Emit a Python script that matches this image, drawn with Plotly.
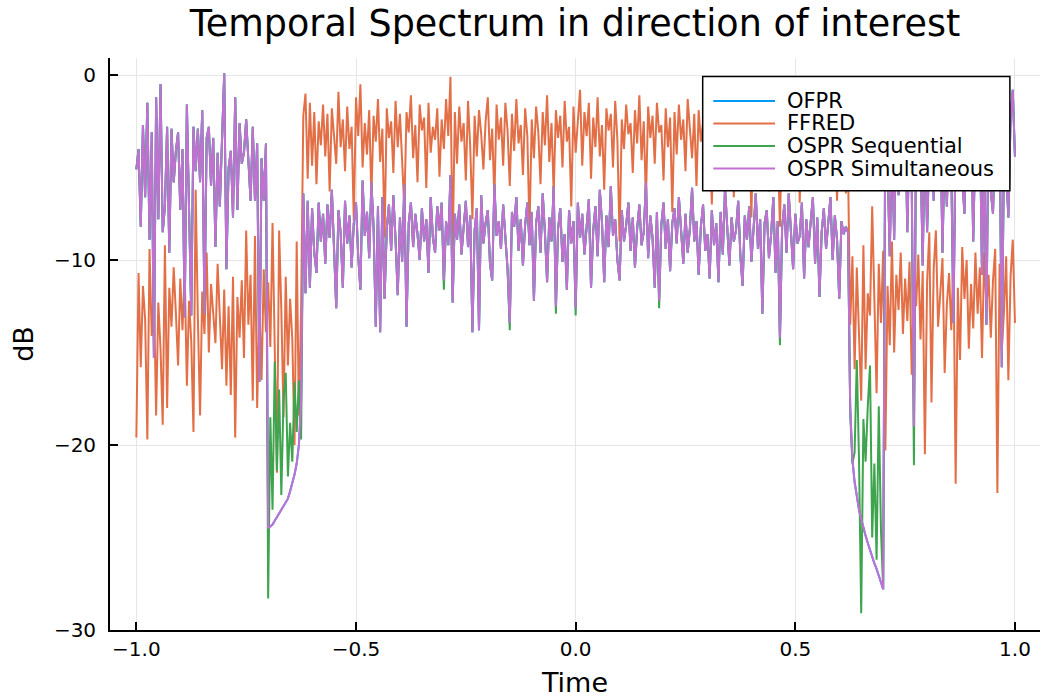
import numpy as np
import plotly.graph_objects as go

# ---------------- data ----------------
n_points = 401
time = np.linspace(-1.0, 1.0, n_points)

# OSPR Simultaneous (purple) – five consecutive stretches
sim_outer_left = [
    -5.1, -4.0, -8.2, -2.7, -6.6, -1.5, -8.9, -3.1, -15.3, -1.2,
    -7.8, -0.5, -8.5, -7.1, -2.8, -9.6, -2.9, -5.8, -4.1, -3.1,
    -7.3, -4.0, -13.1, -1.6, -7.3, -13.0, -2.8, -5.2, -2.9, -5.8,
    -1.9, -12.9, -3.4, -2.8, -6.0, -3.4, -9.3, -4.2, -7.1, -3.0,
    0.1, -10.5, -5.0, -4.1, -7.7, -1.2, -7.3, -2.6, -4.8, -4.2,
    -2.4, -4.6, -6.8, -2.8, -6.8, -3.7, -16.6, -4.5, -6.8, -3.7,
]
sim_notch_left = [
    -24.5, -24.4, -24.3, -24.1, -23.9, -23.7, -23.5, -23.3,
    -23.1, -22.9, -22.5, -22.1, -21.6, -21.0, -20.0, -17.6,
]
sim_mid = [
    -6.4, -11.8, -6.8, -11.5, -7.2, -9.6, -10.7, -6.9, -9.0, -7.5,
    -10.2, -7.0, -8.8, -6.2, -9.4, -12.6, -7.3, -8.5, -11.5, -6.8,
    -9.1, -7.6, -10.4, -8.0, -6.9, -9.8, -11.6, -5.7, -8.7, -7.4,
    -9.9, -5.8, -8.2, -13.6, -7.1, -13.9, -6.6, -12.1, -8.3, -7.0,
    -9.5, -6.5, -8.9, -11.9, -7.7, -10.1, -5.9, -13.6, -8.0, -6.9,
    -9.3, -7.5, -8.6, -10.0, -7.2, -9.0, -7.8, -10.7, -6.6, -8.8,
    -9.6, -7.1, -8.4, -6.9, -11.1, -7.9, -9.2, -5.4, -12.3, -7.5,
    -8.9, -7.0, -9.7, -8.1, -6.8, -9.3, -7.6, -13.9, -8.4, -7.2,
    -13.8, -6.5, -9.1, -8.0, -7.3, -10.2, -11.1, -5.9, -8.7, -7.9,
    -9.4, -7.0, -8.6, -10.5, -13.4, -7.4, -8.2, -6.6, -9.5, -7.8,
    -10.3, -8.1, -6.9, -9.2, -7.4, -12.2, -8.0, -7.1, -9.6, -6.4,
    -8.5, -11.2, -7.7, -9.0, -6.0, -12.5, -8.3, -7.2, -10.1, -8.6,
    -11.6, -7.3, -9.1, -7.9, -12.6, -6.9, -8.8, -7.5, -9.7, -8.2,
    -6.7, -11.5, -8.4, -7.1, -9.8, -6.2, -8.0, -11.2, -7.6, -9.3,
    -6.0, -8.7, -7.8, -10.0, -11.1, -7.3, -9.0, -8.1, -6.9, -9.5,
    -7.7, -10.4, -8.3, -7.0, -9.2, -8.5, -5.8, -9.9, -7.6, -8.8,
    -11.5, -7.4, -12.2, -8.1, -6.9, -9.4, -7.8, -10.6, -8.0, -7.2,
    -9.1, -6.6, -8.7, -10.2, -7.5, -9.6, -8.3, -6.1, -9.0, -7.9,
    -10.8, -8.2, -7.0, -9.5, -8.6, -11.0, -7.3, -9.2, -8.0, -11.2,
    -7.4, -9.7, -6.1, -8.5, -10.3, -7.7, -9.0, -8.4, -6.8, -9.8,
    -11.4, -7.6, -8.9, -7.1, -10.1, -8.3, -6.4, -9.4, -7.8, -12.9,
    -8.0, -7.3, -9.9, -8.6, -6.6, -10.7, -7.9, -14.2, -8.2, -7.0,
    -9.6, -6.4, -8.4, -10.5, -7.5, -9.1, -8.7, -6.9, -11.0, -7.8,
    -9.3, -8.1, -6.6, -10.2, -7.7, -12.0, -8.5, -7.2, -9.4, -8.0,
    -6.6, -10.0, -7.6, -8.9, -12.1, -7.9, -8.6, -8.2, -8.5,
]
sim_notch_right = [
    -18.0, -20.8, -22.0, -22.9, -23.5, -24.0, -24.5, -24.9,
    -25.3, -25.7, -26.0, -26.4, -26.7, -27.1, -27.4, -27.8,
]
sim_outer_right = [
    -1.5, -4.8, -9.8, -3.2, -8.9, -2.1, -6.5, -3.6, -5.2, -1.8,
    -8.5, -3.0, -5.7, -19.0, -2.6, -6.1, -3.9, -10.3, -2.4, -8.5,
    -4.1, -1.3, -6.8, -3.5, -5.4, -2.2, -9.6, -3.8, -7.1, -2.7,
    -4.9, -13.4, -3.1, -6.0, -1.9, -5.5, -7.5, -2.8, -4.4, -1.6,
    -9.0, -3.3, -5.8, -2.5, -10.8, -3.7, -13.5, -2.0, -6.3, -7.5,
    -3.4, -4.9, -1.7, -15.8, -3.9, -5.1, -7.7, -2.3, -0.8, -4.4,
]

# FFRED (orange)
ffred_left = [
    -19.6, -10.7, -15.8, -11.4, -13.2, -19.7, -9.4, -14.1, -11.8, -18.4,
    -12.3, -14.8, -18.9, -9.2, -18.0, -11.5, -13.6, -10.4, -12.9, -15.7,
    -11.0, -13.8, -10.6, -16.8, -12.2, -14.4, -19.3, -6.2, -13.1, -18.4,
    -11.7, -14.0, -9.6, -15.0, -11.3, -12.8, -14.5, -10.2, -13.4, -15.9,
    -11.6, -16.8, -12.5, -17.3, -10.9, -19.6, -12.0, -14.2, -11.1, -15.3,
    -8.4, -13.5, -10.8, -17.6, -8.7, -18.0, -12.4, -16.5, -10.5, -13.9,
    -11.2, -14.7, -8.0, -16.0, -21.5, -8.4, -12.7, -18.5, -10.9, -15.7,
    -12.1, -14.3, -20.0, -9.0, -18.4, -12.6,
]
ffred_mid = [
    -2.2, -1.0, -5.6, -1.5, -4.9, -2.0, -5.9, -2.5, -3.8, -1.6,
    -4.4, -2.1, -6.3, -1.8, -3.5, -4.8, -0.9, -3.9, -2.4, -5.2,
    -1.7, -4.0, -2.8, -7.9, -1.2, -3.3, -0.5, -5.0, -2.6, -4.3,
    -1.9, -6.6, -2.2, -3.6, -1.3, -4.7, -2.9, -8.8, -1.8, -3.4,
    -2.5, -5.3, -1.4, -3.9, -2.1, -4.6, -7.2, -2.0, -3.1, -1.1,
    -4.5, -2.7, -5.8, -1.6, -3.0, -2.3, -6.1, -1.5, -4.2, -2.8,
    -3.5, -1.8, -5.5, -2.4, -4.0, -1.3, -3.3, -0.1, -9.5, -2.0,
    -4.8, -1.7, -3.6, -2.6, -5.7, -1.4, -3.9, -7.8, -2.2, -4.4,
    -1.9, -3.2, -5.1, -2.5, -1.2, -4.6, -2.9, -6.7, -1.6, -3.5,
    -2.3, -4.9, -1.5, -3.0, -6.0, -2.1, -4.1, -1.3, -3.7, -2.7,
    -5.4, -1.8, -3.3, -8.4, -2.4, -4.5, -1.7, -3.1, -5.9, -2.0,
    -3.8, -1.1, -4.7, -2.6, -6.4, -1.9, -3.4, -2.2, -5.0, -1.4,
    -3.6, -2.8, -7.1, -1.7, -4.2, -2.5, -0.8, -4.9, -2.0, -3.3,
    -1.5, -5.6, -2.3, -3.9, -1.2, -4.4, -2.7, -6.2, -1.8, -3.0,
    -2.1, -5.0, -1.4, -3.5, -9.0, -2.4, -4.0, -1.6, -3.2, -2.6,
    -5.3, -1.9, -3.7, -1.1, -4.6, -2.5, -6.8, -1.7, -3.4, -2.2,
    -4.8, -1.5, -3.1, -2.7, -5.7, -1.8, -3.9, -2.3, -7.4, -2.0,
    -4.3, -1.6, -3.5, -2.4, -5.2, -1.3, -3.0, -4.5, -2.1, -6.0,
    -1.9, -3.6, -2.6, -4.9, -1.4, -3.3, -7.0, -2.2, -4.1, -1.7,
    -3.8, -2.5, -5.5, -1.5, -3.2, -2.0, -6.6, -1.8, -4.3, -2.7,
    -3.5, -1.6, -5.1, -2.3, -7.7, -2.0, -3.9, -1.4, -4.6, -2.8,
    -3.3, -1.9, -6.3, -2.5, -4.0, -1.7, -3.6, -8.2, -2.2, -4.4,
    -1.8, -3.2, -5.4, -2.4, -3.8, -1.5, -6.9, -2.6, -4.2, -2.0,
    -3.6, -1.7, -5.0, -2.3, -4.5, -1.9, -3.4, -6.1, -2.8, -4.0,
    -2.2, -5.3, -3.0, -6.8, -2.6, -4.4, -3.3, -6.4, -5.0,
]
ffred_right = [
    -13.5, -9.8, -15.9, -10.4, -14.0, -17.6, -9.2, -15.9, -11.8, -13.0,
    -7.1, -12.6, -17.2, -10.2, -13.4, -9.5, -20.3, -11.4, -14.6, -9.0,
    -15.0, -10.8, -12.7, -9.6, -14.0, -11.0, -13.3, -10.1, -16.2, -11.5,
    -12.5, -9.7, -14.3, -10.6, -20.5, -11.2, -8.5, -17.7, -10.5, -8.4,
    -13.6, -11.8, -9.9, -16.1, -12.4, -10.7, -13.8, -9.8, -22.1, -11.5,
    -15.4, -9.3, -12.1, -10.0, -14.8, -11.3, -13.7, -9.6, -12.9, -10.4,
    -15.3, -9.6, -12.6, -10.8, -14.2, -11.1, -9.4, -22.6, -10.2, -14.9,
    -12.8, -9.8, -16.5, -10.9, -8.9, -13.4,
]

# OSPR Sequential (green): follows the purple trace except inside the notches
seq_notch_left = [
    -28.3, -18.5, -23.5, -15.5, -21.4, -17.0, -22.7, -17.5,
    -16.1, -21.7, -18.8, -20.9, -16.6, -19.3, -16.5, -19.7,
]
seq_notch_right = [
    -18.3, -21.0, -20.4, -15.4, -20.8, -29.1, -18.6, -20.9,
    -17.9, -15.7, -25.0, -21.0, -26.2, -17.9, -24.6, -27.8,
]
seq_deeper_troughs = {140: -11.6, 170: -13.8, 191: -12.9, 200: -13.0,
                      238: -12.6, 293: -14.6, 354: -21.1}

# ---------------- assemble series ----------------
osp_sim = sim_outer_left + sim_notch_left + sim_mid + sim_notch_right + sim_outer_right
ffred = ffred_left + ffred_mid + ffred_right
ofpr = list(osp_sim)

a = len(sim_outer_left)
b = a + len(sim_notch_left) + len(sim_mid)
osp_seq = list(osp_sim)
osp_seq[a:a + len(seq_notch_left)] = seq_notch_left
osp_seq[b:b + len(seq_notch_right)] = seq_notch_right
for k, v in seq_deeper_troughs.items():
    osp_seq[k] = v

assert len(osp_sim) == n_points, len(osp_sim)
assert len(ffred) == n_points, len(ffred)

series_names = ["OFPR", "FFRED", "OSPR Sequential", "OSPR Simultaneous"]
series_values = [ofpr, ffred, osp_seq, osp_sim]
series_colors = ["#009AFA", "#E36F47", "#3EA44E", "#C271D2"]

x_ticks = [-1.0, -0.5, 0.0, 0.5, 1.0]
y_ticks = [0, -10, -20, -30]

# ---------------- figure ----------------
fig = go.Figure()
for name, vals, col in zip(series_names, series_values, series_colors):
    fig.add_trace(go.Scatter(x=time, y=vals, mode="lines", name=name,
                             line=dict(color=col, width=2.0), showlegend=False))

# legend drawn as a framed box (paper coordinates of the plot area)
L_X0, L_X1, L_Y0, L_Y1 = 0.6373, 0.9676, 0.7680, 0.9675
row_y = [0.9249, 0.8855, 0.8462, 0.8068]
line_x0, line_x1, text_x = 0.6487, 0.7151, 0.7258
shapes = [dict(type="rect", xref="paper", yref="paper", x0=L_X0, x1=L_X1,
               y0=L_Y0, y1=L_Y1, fillcolor="white",
               line=dict(color="black", width=1.5), layer="above")]
annotations = []
for name, col, yy in zip(series_names, series_colors, row_y):
    shapes.append(dict(type="line", xref="paper", yref="paper", x0=line_x0,
                       x1=line_x1, y0=yy, y1=yy, line=dict(color=col, width=2),
                       layer="above"))
    annotations.append(dict(text=name, xref="paper", yref="paper", x=text_x,
                            y=yy, xanchor="left", yanchor="middle",
                            showarrow=False, font=dict(size=21, color="black")))

axis_common = dict(
    showline=True, linecolor="black", linewidth=1.8,
    showgrid=True, gridcolor="#e6e6e6", gridwidth=1,
    zeroline=False, ticks="inside", ticklen=8, tickwidth=1.5, tickcolor="black",
    tickfont=dict(size=20, color="black"), mirror=False,
)

fig.update_layout(
    width=1042, height=700,
    margin=dict(l=110, r=2, t=58, b=70),
    paper_bgcolor="white", plot_bgcolor="white",
    font=dict(family="DejaVu Sans", color="black", size=20),
    title=dict(text="Temporal Spectrum in direction of interest",
               x=0.5, xref="paper", xanchor="center",
               y=1 - 23 / 700, yref="container", yanchor="middle",
               font=dict(size=36.5, color="black")),
    showlegend=False,
    shapes=shapes,
    annotations=annotations,
    xaxis=dict(range=[-1.06, 1.057], tickvals=x_ticks, tickformat=".1f",
               title=dict(text="Time", font=dict(size=27), standoff=13),
               ticklabelstandoff=0, **axis_common),
    yaxis=dict(range=[-30.0, 0.92], tickvals=y_ticks,
               title=dict(text="dB", font=dict(size=27), standoff=12),
               ticklabelstandoff=8, **axis_common),
)

fig.write_html("out.html")
